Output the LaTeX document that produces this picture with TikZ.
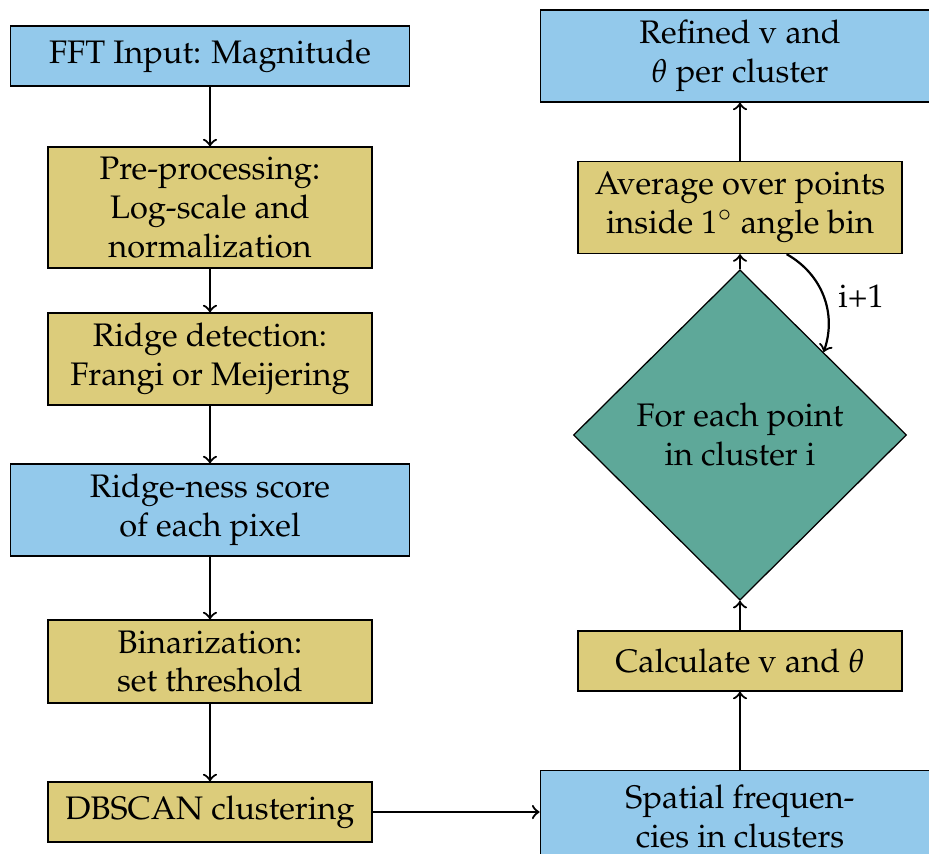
\documentclass[tikz,border=0pt]{standalone}
\usepackage{amsmath, amssymb}
\usepackage[T1]{fontenc}
\usepackage{mathpazo}
\usepackage{tikz}
\usetikzlibrary{shapes.geometric}

\definecolor{boxblue}{RGB}{147,201,235}
\definecolor{boxsand}{RGB}{220,204,123}
\definecolor{boxteal}{RGB}{94,168,153}

\begin{document}
\begin{tikzpicture}[
    >=to,
    font=\fontsize{10.3pt}{12.3pt}\selectfont,
    flow/.style={->, line width=0.7pt},
    base/.style={draw=black, align=center, inner sep=1pt},
    io/.style={base, fill=boxblue, minimum width=4.44cm},
    proc/.style={base, fill=boxsand, minimum width=3.6cm},
    decide/.style={base, fill=boxteal, diamond, aspect=1, inner sep=0pt,
                   minimum width=3.7cm, minimum height=3.67cm},
    one/.style={minimum height=0.667cm},
    two/.style={minimum height=1.022cm}
  ]
  % column positions
  \def\xl{2.333}
  \def\xr{8.222}

  % page size
  \useasboundingbox (0,0) rectangle (10.322,-9.478);

  % left column
  \node[io, one]   (fft)    at (\xl,-0.622) {FFT Input: Magnitude};
  \node[proc, minimum height=1.344cm] (prep) at (\xl,-2.306)
    {Pre-processing:\\Log-scale and\\normalization};
  \node[proc, two] (ridge)  at (\xl,-3.989) {Ridge detection:\\Frangi or Meijering};
  \node[io, two]   (score)  at (\xl,-5.667) {Ridge-ness score\\of each pixel};
  \node[proc, minimum height=0.922cm] (binar) at (\xl,-7.35)
    {Binarization:\\set threshold};
  \node[proc, one] (dbscan) at (\xl,-9.022) {DBSCAN clustering};

  % right column
  \node[io, two]   (spatial) at (\xr,-9.072) {Spatial frequen-\\cies in clusters};
  \node[proc, one] (calc)    at (\xr,-7.344) {Calculate v and $\theta$};
  \node[decide]    (each)    at (\xr,-4.833) {For each point\\in cluster i};
  \node[proc, two] (avg)     at (\xr,-2.306) {Average over points\\inside $1^\circ$ angle bin};
  \node[io, two]   (refined) at (\xr,-0.622) {Refined v and\\$\theta$ per cluster};

  % arrows down the left
  \draw[flow] (fft) -- (prep);
  \draw[flow] (prep) -- (ridge);
  \draw[flow] (ridge) -- (score);
  \draw[flow] (score) -- (binar);
  \draw[flow] (binar) -- (dbscan);

  % across, then up the right
  \draw[flow] (dbscan) -- (dbscan -| spatial.west);
  \draw[flow] (spatial) -- (calc);
  \draw[flow] (calc) -- (each);
  \draw[flow] (each) -- (avg);
  \draw[flow] (avg) -- (refined);

  % loop back to the next cluster
  \draw[flow] (avg.-45) to[bend left=40] node[right, xshift=1pt] (next) {i+1} (each.north east);

\end{tikzpicture}
\end{document}
